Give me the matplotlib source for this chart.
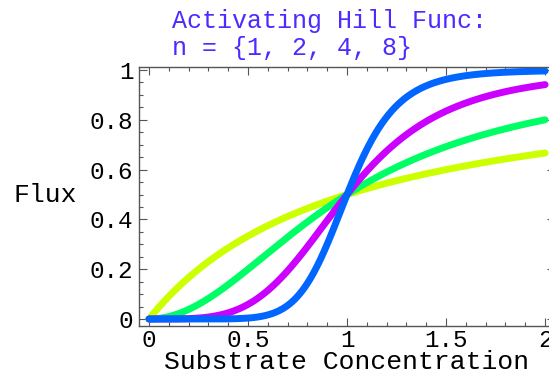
import numpy as np
import matplotlib.pyplot as plt
from matplotlib.ticker import MultipleLocator

# Hill coefficients and the line colour used for each curve
hill_n = [1, 2, 4, 8]
colors = ["#ccff00", "#00ff66", "#cc00ff", "#0066ff"]
x_ticks = [0, 0.5, 1, 1.5, 2]
x_tick_labels = ["0", "0.5", "1", "1.5", "2"]
y_ticks = [0, 0.2, 0.4, 0.6, 0.8, 1]
y_tick_labels = ["0", "0.2", "0.4", "0.6", "0.8", "1"]

FONT = "Liberation Mono"
FS = 17.5
TITLE_COLOR = "#4b2bff"

W, H = 549, 376
fig = plt.figure(figsize=(W / 100, H / 100), dpi=100)
ax = fig.add_axes([139 / W, 50 / H, (555 - 139) / W, (326 - 67) / H])

s = np.linspace(0, 2, 600)
for n, c in zip(hill_n, colors):
    ax.plot(s, s**n / (1 + s**n), color=c, lw=5, solid_capstyle="round",
            clip_on=False)

ax.set_xlim(-0.0505, 2.05)
ax.set_ylim(-0.028, 1.012)

ax.set_xticks(x_ticks)
ax.set_xticklabels(x_tick_labels, fontfamily=FONT, fontsize=FS)
ax.set_yticks(y_ticks)
ax.set_yticklabels(y_tick_labels, fontfamily=FONT, fontsize=FS)
ax.xaxis.set_minor_locator(MultipleLocator(0.1))
ax.yaxis.set_minor_locator(MultipleLocator(0.05))
ax.tick_params(which="both", direction="in", top=True, right=True,
               color="#555555", width=0.8)
ax.tick_params(which="major", length=6, pad=2)
ax.tick_params(which="minor", length=3)
ax.tick_params(axis="y", pad=4)

for sp in ax.spines.values():
    sp.set_color("#555555")
    sp.set_linewidth(1.0)

fig.text(347 / W, 1 - 369 / H, "Substrate Concentration", ha="center",
         va="baseline", fontfamily=FONT, fontsize=19)
fig.text(14 / W, 1 - 195 / H, "Flux", ha="left", va="center",
         fontfamily=FONT, fontsize=19)
fig.text(172 / W, 1 - 28 / H, "Activating Hill Func:", ha="left",
         va="baseline", fontfamily=FONT, fontsize=18, color=TITLE_COLOR)
fig.text(172 / W, 1 - 55 / H, "n = {1, 2, 4, 8}", ha="left",
         va="baseline", fontfamily=FONT, fontsize=18, color=TITLE_COLOR)

fig.savefig("out.png", dpi=100)
